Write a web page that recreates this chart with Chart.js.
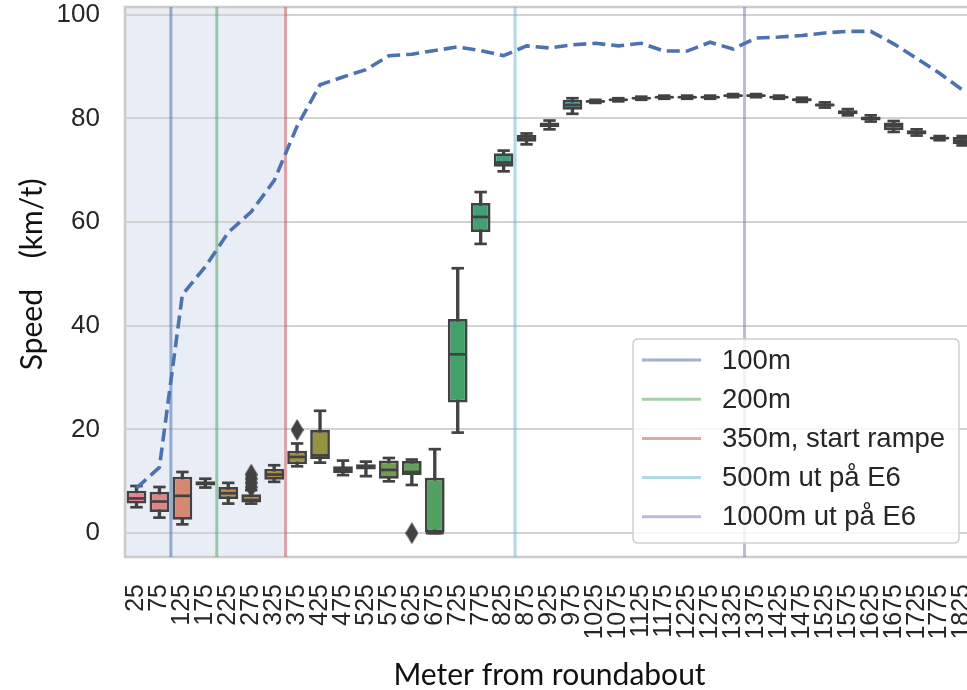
<!DOCTYPE html>
<html><head><meta charset="utf-8">
<script src="https://cdn.jsdelivr.net/npm/chart.js@4.4.1/dist/chart.umd.min.js"></script>
<style>
html,body{margin:0;padding:0;background:#fff;overflow:hidden;width:967px;height:690px}
#wrap{position:absolute;left:0;top:0;width:974px;height:690px}
</style>
</head><body><div id="wrap"><canvas id="c" width="974" height="690"></canvas></div>
<script>
// ---------- data ----------
const categories = ['25','75','125','175','225','275','325','375','425','475','525','575','625','675','725','775','825','875','925','975','1025','1075','1125','1175','1225','1275','1325','1375','1425','1475','1525','1575','1625','1675','1725','1775','1825'];
const whiskerLow  = [5.0,3.0,1.7,8.8,5.7,5.7,9.9,12.9,13.6,11.2,11.0,10.0,9.3,0,19.4,55.8,69.8,75.0,77.9,80.9,83.0,83.3,83.6,83.8,83.8,83.8,84.1,84.1,83.8,83.2,82.1,80.6,79.4,77.4,76.7,75.8,74.8];
const quart1      = [5.7,4.1,2.6,9.2,6.6,5.9,10.3,13.3,14.3,11.6,12.3,10.5,11.2,0,25.2,58.1,70.7,75.5,78.3,81.7,83.1,83.4,83.7,83.9,83.9,83.9,84.2,84.2,83.9,83.3,82.3,80.8,79.6,77.7,76.9,76.0,75.0];
const medians     = [6.7,6.1,7.2,9.6,7.7,6.4,11.3,14.7,15.0,12.2,12.8,12.2,11.8,0,34.5,61.0,71.5,76.1,78.7,82.6,83.3,83.6,83.9,84.1,84.1,84.1,84.4,84.4,84.1,83.6,82.6,81.2,80.0,78.5,77.3,76.2,75.7];
const quart3      = [8.2,8.0,10.9,10.0,8.9,7.5,12.4,15.9,19.9,12.9,13.3,14.0,13.9,10.7,41.3,63.7,73.3,76.8,79.2,83.6,83.5,83.8,84.1,84.3,84.3,84.3,84.6,84.6,84.3,83.9,82.9,81.6,80.4,79.2,77.7,76.4,76.4];
const whiskerHigh = [9.1,8.9,11.8,10.5,9.7,8.3,13.1,17.3,23.6,14.0,13.8,14.5,14.2,16.2,51.1,65.8,73.8,77.1,79.6,83.9,83.6,83.9,84.2,84.4,84.4,84.4,84.7,84.7,84.4,84.0,83.1,81.8,80.6,79.5,77.9,76.6,76.6];
const outlierCats = ['275','275','275','275','375','625'];
const outlierVals = [8.9,9.7,10.5,11.3,19.9,0];
const limitLine   = [8.7,12.7,46,51.4,58.0,62,68,78.5,86.5,88,89.4,92.1,92.4,93.1,93.8,93.1,92.1,94,93.6,94.2,94.5,94.0,94.5,93.0,93.0,94.7,93.4,95.5,95.7,96.0,96.5,96.8,96.8,94.4,91.6,88.7,85.5];
const refLabels   = ['100m','200m','350m, start rampe','500m ut på E6','1000m ut på E6'];
const refPositions= [1.5,3.5,6.5,16.5,26.5];   // position on the category index axis
const shadedUntil = 6.5;
const yTicks      = [0,20,40,60,80,100];
const yMin = -4.6, yMax = 101.5;

// ---------- styles ----------
const refColors = ['rgba(76,114,176,0.55)','rgba(85,168,104,0.55)','rgba(196,78,82,0.5)','rgba(100,181,205,0.5)','rgba(129,114,178,0.5)'];
const dark = '#424242';
const anchors = ['#f77189','#ce9032','#97a431','#32b166','#36ada4','#39a7d0','#a48cf4','#f561dd']
  .map(h=>[parseInt(h.slice(1,3),16),parseInt(h.slice(3,5),16),parseInt(h.slice(5,7),16)]);
function desat(rgb,p){
  let [r,g,b]=rgb.map(v=>v/255);
  const mx=Math.max(r,g,b), mn=Math.min(r,g,b), d=mx-mn;
  let l=(mx+mn)/2, s=0, h=0;
  if(d){ s = l>0.5 ? d/(2-mx-mn) : d/(mx+mn);
    if(mx===r) h=(g-b)/d+(g<b?6:0); else if(mx===g) h=(b-r)/d+2; else h=(r-g)/d+4; h/=6; }
  s*=p;
  const q = l<0.5 ? l*(1+s) : l+s-l*s, pp=2*l-q;
  const f=t=>{ if(t<0)t+=1; if(t>1)t-=1; if(t<1/6) return pp+(q-pp)*6*t; if(t<1/2) return q; if(t<2/3) return pp+(q-pp)*(2/3-t)*6; return pp; };
  return `rgb(${Math.round(f(h+1/3)*255)},${Math.round(f(h)*255)},${Math.round(f(h-1/3)*255)})`;
}
function paletteColor(i,n){
  const t=i/n*8, k=Math.floor(t), fr=t-k, a=anchors[k%8], b=anchors[(k+1)%8];
  return desat(a.map((v,j)=>v+(b[j]-v)*fr),0.75);
}
const boxColors = categories.map((c,i)=>paletteColor(i,categories.length));

const diamond = document.createElement('canvas');
diamond.width=13; diamond.height=22;
(function(){const g=diamond.getContext('2d'); g.fillStyle=dark; g.beginPath(); g.moveTo(6.5,0); g.lineTo(13,11); g.lineTo(6.5,22); g.lineTo(0,11); g.closePath(); g.fill();})();

const idx = categories.map((c,i)=>i);
const pts = arr => idx.map(i=>({x:i, y:arr[i]}));

// ---------- datasets ----------
const datasets = [];
refLabels.forEach((lab,k)=>{
  datasets.push({type:'line', label:lab, isRef:true,
    data:[{x:refPositions[k],y:yMin},{x:refPositions[k],y:yMax}],
    borderColor:refColors[k], borderWidth:3, pointRadius:0, order:20});
});
datasets.push({type:'bar', label:'whiskers', data:idx.map(i=>({x:i, y:[whiskerLow[i],whiskerHigh[i]]})),
  backgroundColor:dark, barThickness:2.7, grouped:false, order:9});
datasets.push({type:'line', label:'lowcap', data:pts(whiskerLow), showLine:false, pointStyle:'line', pointRadius:6.2, pointBorderWidth:2.7, borderColor:dark, order:8});
datasets.push({type:'line', label:'highcap', data:pts(whiskerHigh), showLine:false, pointStyle:'line', pointRadius:6.2, pointBorderWidth:2.7, borderColor:dark, order:8});
datasets.push({type:'bar', label:'boxes', data:idx.map(i=>({x:i, y:[quart1[i],quart3[i]]})),
  backgroundColor:boxColors, borderColor:dark, borderWidth:2.7, borderSkipped:false,
  barPercentage:0.86, categoryPercentage:1, grouped:false, order:7});
datasets.push({type:'line', label:'median', data:pts(medians), showLine:false, pointStyle:'line', pointRadius:9, pointBorderWidth:2.7, borderColor:dark, order:6});
datasets.push({type:'line', label:'outliers', data:outlierCats.map((c,k)=>({x:categories.indexOf(c),y:outlierVals[k]})), showLine:false,
  pointStyle:diamond, pointRadius:7, order:6});
datasets.push({type:'line', label:'limit', data:pts(limitLine), borderColor:'#4c72b0', borderWidth:3.6, borderDash:[13,6],
  pointRadius:0, tension:0, fill:false, order:1});

// ---------- plugins ----------
const shadePlugin = {
  id:'shade',
  beforeDraw(chart){
    const a=chart.chartArea, ctx=chart.ctx, xe=chart.scales.x.getPixelForValue(shadedUntil);
    ctx.save(); ctx.fillStyle='#e9edf5'; ctx.fillRect(a.left,a.top,xe-a.left,a.bottom-a.top); ctx.restore();
  },
  beforeDatasetsDraw(chart){
    const a=chart.chartArea, ctx=chart.ctx;
    ctx.save(); ctx.strokeStyle='#cccccc'; ctx.lineWidth=2.6; ctx.strokeRect(a.left,a.top,a.right-a.left,a.bottom-a.top); ctx.restore();
  }
};
const legendPlugin = {
  id:'refLegend',
  afterDraw(chart){
    const ctx=chart.ctx, a=chart.chartArea;
    const items=chart.data.datasets.filter(d=>d.isRef);
    const w=326, h=204, x0=a.right-341, y0=a.bottom-218, r=5;
    ctx.save();
    ctx.beginPath();
    ctx.moveTo(x0+r,y0); ctx.lineTo(x0+w-r,y0); ctx.quadraticCurveTo(x0+w,y0,x0+w,y0+r);
    ctx.lineTo(x0+w,y0+h-r); ctx.quadraticCurveTo(x0+w,y0+h,x0+w-r,y0+h);
    ctx.lineTo(x0+r,y0+h); ctx.quadraticCurveTo(x0,y0+h,x0,y0+h-r);
    ctx.lineTo(x0,y0+r); ctx.quadraticCurveTo(x0,y0,x0+r,y0); ctx.closePath();
    ctx.fillStyle='rgba(255,255,255,0.82)'; ctx.fill();
    ctx.strokeStyle='#d0d0d0'; ctx.lineWidth=1.5; ctx.stroke();
    items.forEach((d,k)=>{
      const y=y0+21+k*39.2;
      ctx.strokeStyle=d.borderColor; ctx.lineWidth=3;
      ctx.beginPath(); ctx.moveTo(x0+9,y); ctx.lineTo(x0+68,y); ctx.stroke();
      ctx.fillStyle='#262626'; ctx.font='27.5px "Liberation Sans", Arial, sans-serif'; ctx.textBaseline='middle'; ctx.textAlign='left';
      ctx.fillText(d.label,x0+89,y+1);
    });
    ctx.restore();
  }
};

new Chart(document.getElementById('c'),{
  type:'bar',
  data:{datasets},
  options:{
    responsive:false, animation:false, devicePixelRatio:1,
    layout:{autoPadding:false, padding:{top:7,right:0,left:0,bottom:0}},
    plugins:{legend:{display:false}, tooltip:{enabled:false}},
    scales:{
      x:{type:'linear', min:-0.5, max:categories.length-0.5, offset:false,
        afterBuildTicks(s){ s.ticks = idx.map(i=>({value:i})); },
        grid:{display:false, drawTicks:false}, border:{display:false},
        ticks:{autoSkip:false, minRotation:90, maxRotation:90, padding:27, color:'#262626',
          callback:(v)=>categories[v],
          font:{family:'"Liberation Sans", Arial, sans-serif', size:25}},
        title:{display:true, text:'Meter from roundabout', color:'#111', padding:{top:0,bottom:0},
          font:{family:'Lato, "Open Sans", sans-serif', size:30, lineHeight:1.0}},
        afterFit(s){ s.height=133; s.paddingLeft=0; s.paddingRight=0; s.paddingTop=0; s.paddingBottom=0; }
      },
      y:{type:'linear', min:yMin, max:yMax,
        afterBuildTicks(s){ s.ticks = yTicks.map(v=>({value:v})); },
        grid:{color:'#d2d2d2', lineWidth:2, drawTicks:false}, border:{display:false},
        ticks:{padding:25, color:'#262626', font:{family:'"Liberation Sans", Arial, sans-serif', size:26}},
        title:{display:true, text:'  Speed    (km/t)', color:'#111', padding:{top:14,bottom:0},
          font:{family:'Lato, "Open Sans", sans-serif', size:30, lineHeight:1.2}},
        afterFit(s){ s.width=125; s.paddingTop=0; s.paddingBottom=0; s.paddingLeft=0; s.paddingRight=0; }
      }
    }
  },
  plugins:[shadePlugin, legendPlugin]
});
</script>
</body></html>
